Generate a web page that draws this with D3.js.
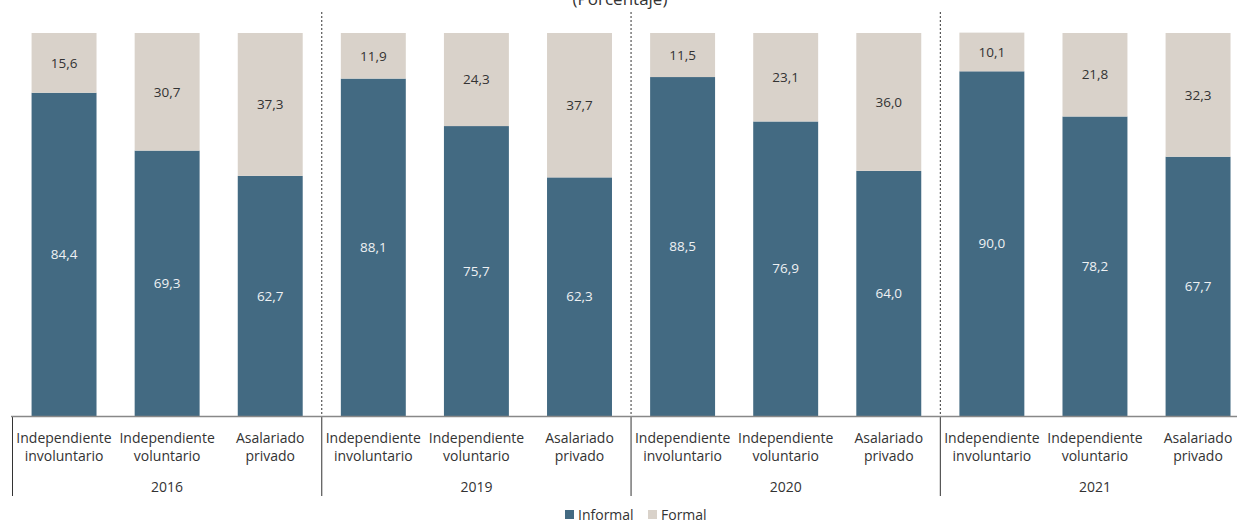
<!DOCTYPE html>
<html><head><meta charset="utf-8">
<script src="https://cdn.jsdelivr.net/npm/d3@7"></script>
<style>body{margin:0;background:#fff}svg{display:block}text{font-family:"Open Sans","Noto Sans",sans-serif}</style>
</head><body><svg id="c" width="1237" height="520"></svg>
<script>
const years = ["2016","2019","2020","2021"];
const categories = [["Independiente","involuntario"],["Independiente","voluntario"],["Asalariado","privado"]];
const informal = [84.4,69.3,62.7, 88.1,75.7,62.3, 88.5,76.9,64.0, 90.0,78.2,67.7];
const formal   = [15.6,30.7,37.3, 11.9,24.3,37.7, 11.5,23.1,36.0, 10.1,21.8,32.3];
const seriesNames = ["Informal","Formal"];
const colors = ["#436a82","#d9d2ca"];

const svg = d3.select("#c");
const keys = d3.range(informal.length);
const x = d3.scaleBand().domain(keys).range([12.5,1249.6]).paddingInner(0.37).paddingOuter(0.185);
const y = d3.scaleLinear().domain([0,100]).range([416,33]);
const fmt = v => v.toFixed(1).replace(".", ",");

// title
svg.append("text").attr("x",620).attr("y",5).attr("text-anchor","middle").attr("font-size",17).attr("fill","#333").text("(Porcentaje)");

// bars
const g = svg.append("g");
keys.forEach(i => {
  g.append("rect").attr("x",x(i)).attr("width",x.bandwidth()).attr("y",y(informal[i])).attr("height",y(0)-y(informal[i])).attr("fill",colors[0]);
  g.append("rect").attr("x",x(i)).attr("width",x.bandwidth()).attr("y",y(informal[i]+formal[i])).attr("height",y(informal[i])-y(informal[i]+formal[i])).attr("fill",colors[1]);
  g.append("text").attr("x",x(i)+x.bandwidth()/2).attr("y",(y(0)+y(informal[i]))/2).attr("dy","0.35em")
    .attr("text-anchor","middle").attr("font-size",13.5).attr("fill","#eef1f3").text(fmt(informal[i]));
  g.append("text").attr("x",x(i)+x.bandwidth()/2).attr("y",(y(informal[i])+y(informal[i]+formal[i]))/2).attr("dy","0.35em")
    .attr("text-anchor","middle").attr("font-size",13.5).attr("fill","#333").text(fmt(formal[i]));
});

// separators
const step = x.step();
const left = x.range()[0];
years.forEach((yr,j) => {
  const sx = left + j*3*step;
  if (j>0) svg.append("line").attr("x1",sx).attr("x2",sx).attr("y1",12).attr("y2",416).attr("stroke","#333").attr("stroke-width",1).attr("stroke-dasharray","2,2");
  svg.append("line").attr("x1",Math.max(sx,11)).attr("x2",Math.max(sx,11)).attr("y1",416).attr("y2",496).attr("stroke","#333").attr("stroke-width",1);
  svg.append("text").attr("x",sx+1.5*step).attr("y",492).attr("text-anchor","middle").attr("font-size",14).attr("fill","#333").text(yr);
});

// axis line
svg.append("line").attr("x1",11).attr("x2",1237).attr("y1",416.5).attr("y2",416.5).attr("stroke","#888").attr("stroke-width",1.5);

// category labels
keys.forEach(i => {
  const c = categories[i%3];
  const t = svg.append("text").attr("x",x(i)+x.bandwidth()/2).attr("text-anchor","middle").attr("font-size",14).attr("fill","#333");
  t.append("tspan").attr("x",x(i)+x.bandwidth()/2).attr("y",443).text(c[0]);
  t.append("tspan").attr("x",x(i)+x.bandwidth()/2).attr("y",461).text(c[1]);
});

// legend
const lg = svg.append("g");
const lx = [565,648];
seriesNames.forEach((n,k) => {
  lg.append("rect").attr("x",lx[k]).attr("y",510).attr("width",9).attr("height",9).attr("fill",colors[k]);
  lg.append("text").attr("x",lx[k]+13).attr("y",520).attr("font-size",14).attr("fill","#333").text(n);
});
</script></body></html>
